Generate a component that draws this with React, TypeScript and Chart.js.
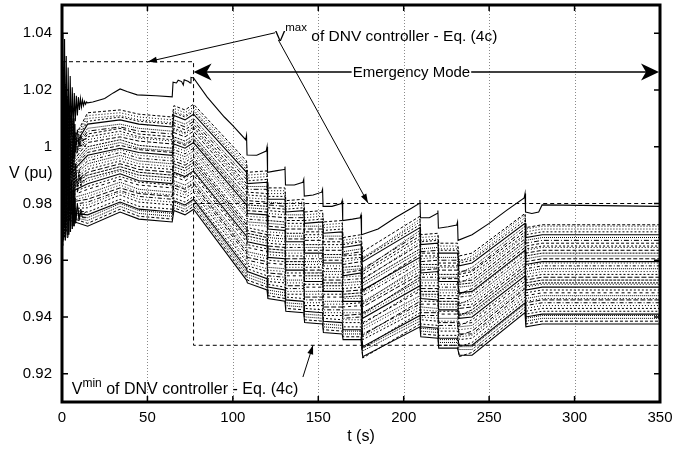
import React, { useEffect, useRef } from "react";
import { Chart, registerables } from "chart.js";

Chart.register(...registerables);

const FONT = '"Liberation Sans", Arial, Helvetica, sans-serif';

// ---- axes ----
const xTickValues = [0, 50, 100, 150, 200, 250, 300, 350];
const yTickValues = [0.92, 0.94, 0.96, 0.98, 1.0, 1.02, 1.04];
const yTickLabels = ["0.92", "0.94", "0.96", "0.98", "1", "1.02", "1.04"];

// ---- highest bus voltage (solid line) ----
const topTimes = [0, 0.5, 1.0, 1.5, 2.0, 2.5, 3.0, 3.6, 4.2, 4.8, 5.4, 6.0, 6.6, 7.2, 7.8, 8.4, 9.0, 9.6, 10.2, 10.8, 11.4, 12.0, 12.6, 13.2, 13.8, 14.4, 15, 18, 25, 30, 34, 38, 44, 55, 64.5, 65, 67, 68, 70, 71, 71.5, 74, 75, 75.5, 77, 85, 95, 100, 107.5, 108, 108.3, 114, 119.5, 120, 120.3, 125, 130, 130.5, 130.8, 136, 141, 141.5, 141.8, 147, 152, 152.5, 152.8, 158, 163.5, 164, 164.3, 170, 174.5, 175, 175.3, 185, 195, 205, 209, 209.5, 209.8, 215, 219.5, 220, 220.3, 226, 231, 231.5, 231.8, 240, 250, 260, 270.5, 271, 271.3, 275, 279, 281, 350];
const topValues = [1.000, 1.040, 0.985, 1.038, 0.990, 1.032, 0.995, 1.028, 1.000, 1.025, 1.004, 1.021, 1.006, 1.019, 1.009, 1.018, 1.011, 1.0175, 1.013, 1.017, 1.014, 1.0165, 1.0145, 1.016, 1.015, 1.0158, 1.0155, 1.0158, 1.017, 1.019, 1.0204, 1.0195, 1.0183, 1.018, 1.0176, 1.0228, 1.0225, 1.0235, 1.023, 1.0218, 1.0236, 1.023, 1.0225, 1.0245, 1.0243, 1.0175, 1.0105, 1.0075, 1.0025, 1.004, 0.9971, 0.997, 0.9985, 1.000, 0.991, 0.9915, 0.992, 0.993, 0.9865, 0.9865, 0.9875, 0.9885, 0.9826, 0.983, 0.984, 0.985, 0.979, 0.979, 0.980, 0.981, 0.974, 0.9745, 0.975, 0.976, 0.969, 0.971, 0.975, 0.9785, 0.980, 0.9812, 0.975, 0.975, 0.9765, 0.9775, 0.9713, 0.9718, 0.9724, 0.9735, 0.967, 0.969, 0.973, 0.9775, 0.982, 0.9835, 0.977, 0.9765, 0.977, 0.9795, 0.979];

// ---- initial transient (oscillating buses) ----
const oscTimes = [0, 0.5, 1.0, 1.5, 2.0, 2.5, 3.0, 3.5, 4.0, 4.5, 5.0, 5.5, 6.0, 6.5, 7.0, 7.5, 8.0, 9.0, 10.0, 11.0, 12.0, 14.0];
const osc1 = [1.000, 1.030, 0.980, 1.025, 0.985, 1.020, 0.988, 1.017, 0.990, 1.014, 0.992, 1.012, 0.994, 1.010, 0.996, 1.008, 0.998, 1.006, 1.000, 1.004, 1.002, 1.003];
const osc2 = [0.990, 0.965, 1.020, 0.968, 1.015, 0.970, 1.010, 0.972, 1.006, 0.974, 1.002, 0.976, 0.999, 0.978, 0.996, 0.980, 0.994, 0.984, 0.990, 0.986, 0.988, 0.988];
const osc3 = [0.985, 1.010, 0.968, 1.005, 0.967, 1.000, 0.968, 0.996, 0.969, 0.992, 0.970, 0.988, 0.971, 0.985, 0.972, 0.982, 0.973, 0.979, 0.974, 0.977, 0.975, 0.975];
const osc4 = [1.005, 0.975, 1.028, 0.978, 1.022, 0.980, 1.018, 0.983, 1.014, 0.986, 1.011, 0.990, 1.009, 0.993, 1.007, 0.996, 1.005, 0.998, 1.003, 1.000, 1.001, 1.000];
const osc5 = [0.980, 0.998, 0.967, 0.995, 0.968, 0.992, 0.969, 0.990, 0.970, 0.988, 0.971, 0.986, 0.972, 0.984, 0.973, 0.982, 0.974, 0.980, 0.975, 0.978, 0.976, 0.977];
const osc6 = [0.995, 0.970, 1.012, 0.972, 1.008, 0.974, 1.005, 0.976, 1.002, 0.978, 1.000, 0.980, 0.998, 0.982, 0.996, 0.984, 0.994, 0.986, 0.992, 0.988, 0.990, 0.990];

// ---- other bus voltages ----
const busTimes = [0, 15, 34, 45, 64.5, 65.5, 72, 77, 108, 108.5, 120, 120.5, 130.5, 131, 141.5, 142, 152.5, 153, 164, 164.5, 175, 176, 209.5, 210, 220, 220.5, 231.5, 232.5, 240, 271, 271.5, 281, 350];
const bus01 = [0.995, 1.012, 1.013, 1.0115, 1.0105, 1.0145, 1.013, 1.015, 0.995, 0.991, 0.9915, 0.9855, 0.9855, 0.981, 0.9815, 0.977, 0.9775, 0.9735, 0.974, 0.968, 0.969, 0.963, 0.9755, 0.969, 0.9695, 0.966, 0.966, 0.9615, 0.9625, 0.9765, 0.9715, 0.9725, 0.9725];
const bus02 = [0.994, 1.010, 1.011, 1.0095, 1.0085, 1.0125, 1.011, 1.013, 0.993, 0.989, 0.9895, 0.9835, 0.9835, 0.979, 0.9795, 0.975, 0.9755, 0.9715, 0.972, 0.966, 0.967, 0.961, 0.9735, 0.967, 0.9675, 0.964, 0.964, 0.960, 0.9605, 0.975, 0.970, 0.971, 0.971];
const bus03 = [0.993, 1.008, 1.0095, 1.008, 1.007, 1.011, 1.0095, 1.0115, 0.991, 0.987, 0.9875, 0.9815, 0.9815, 0.977, 0.9775, 0.973, 0.9735, 0.9695, 0.970, 0.9645, 0.9655, 0.9595, 0.9715, 0.9655, 0.966, 0.9625, 0.9625, 0.958, 0.959, 0.973, 0.968, 0.969, 0.969];
const bus04 = [0.992, 1.0055, 1.007, 1.0055, 1.0045, 1.0085, 1.007, 1.009, 0.9885, 0.985, 0.985, 0.9795, 0.979, 0.975, 0.975, 0.971, 0.971, 0.9675, 0.9675, 0.962, 0.963, 0.957, 0.9695, 0.963, 0.9635, 0.960, 0.960, 0.956, 0.9565, 0.971, 0.966, 0.967, 0.967];
const bus05 = [0.991, 1.0035, 1.0055, 1.0035, 1.0025, 1.0065, 1.005, 1.007, 0.986, 0.983, 0.9825, 0.9775, 0.977, 0.973, 0.973, 0.969, 0.969, 0.9655, 0.9655, 0.9605, 0.961, 0.955, 0.9675, 0.9615, 0.9615, 0.958, 0.958, 0.954, 0.955, 0.969, 0.964, 0.965, 0.965];
const bus06 = [0.990, 1.0015, 1.0035, 1.002, 1.001, 1.005, 1.0035, 1.0055, 0.984, 0.981, 0.9805, 0.9755, 0.975, 0.971, 0.971, 0.967, 0.967, 0.9635, 0.9635, 0.9585, 0.9595, 0.9535, 0.9655, 0.9595, 0.960, 0.9565, 0.9565, 0.9525, 0.953, 0.9675, 0.9625, 0.9635, 0.9635];
const bus07 = [0.9885, 0.999, 1.0015, 0.9995, 0.9985, 1.0025, 1.001, 1.003, 0.9815, 0.9785, 0.978, 0.973, 0.9725, 0.9685, 0.9685, 0.9645, 0.9645, 0.961, 0.961, 0.9565, 0.957, 0.951, 0.963, 0.9575, 0.9575, 0.954, 0.954, 0.9505, 0.951, 0.9655, 0.9605, 0.9615, 0.9615];
const bus08 = [0.9875, 0.997, 0.9995, 0.998, 0.997, 1.001, 0.9995, 1.0015, 0.9795, 0.9765, 0.976, 0.971, 0.9705, 0.9665, 0.9665, 0.9625, 0.9625, 0.959, 0.959, 0.9545, 0.9555, 0.9495, 0.961, 0.9555, 0.956, 0.9525, 0.9525, 0.9485, 0.949, 0.9635, 0.9585, 0.9595, 0.9595];
const bus09 = [0.9865, 0.995, 0.998, 0.996, 0.995, 0.999, 0.9975, 0.9995, 0.9775, 0.9745, 0.974, 0.969, 0.9685, 0.9645, 0.9645, 0.9605, 0.9605, 0.957, 0.957, 0.953, 0.9535, 0.9475, 0.959, 0.954, 0.954, 0.9505, 0.9505, 0.947, 0.9475, 0.962, 0.957, 0.958, 0.958];
const bus10 = [0.9855, 0.993, 0.996, 0.994, 0.993, 0.997, 0.9955, 0.9975, 0.9755, 0.9725, 0.972, 0.967, 0.9665, 0.9625, 0.9625, 0.9585, 0.9585, 0.955, 0.955, 0.951, 0.9515, 0.9455, 0.957, 0.952, 0.952, 0.9485, 0.9485, 0.945, 0.9455, 0.960, 0.955, 0.956, 0.956];
const bus11 = [0.9845, 0.991, 0.994, 0.992, 0.991, 0.995, 0.9935, 0.9955, 0.9725, 0.9705, 0.969, 0.965, 0.9645, 0.9605, 0.9605, 0.9565, 0.9565, 0.953, 0.953, 0.949, 0.9495, 0.9435, 0.955, 0.950, 0.950, 0.9465, 0.9465, 0.943, 0.9435, 0.958, 0.953, 0.954, 0.954];
const bus12 = [0.9835, 0.989, 0.992, 0.990, 0.989, 0.993, 0.9915, 0.9935, 0.9705, 0.9685, 0.967, 0.963, 0.9625, 0.9585, 0.9585, 0.9545, 0.9545, 0.951, 0.951, 0.947, 0.9475, 0.9415, 0.953, 0.948, 0.948, 0.9445, 0.9445, 0.941, 0.9415, 0.956, 0.951, 0.952, 0.952];
const bus13 = [0.9825, 0.987, 0.9905, 0.988, 0.987, 0.991, 0.9895, 0.9915, 0.9685, 0.9665, 0.965, 0.961, 0.9605, 0.9565, 0.9565, 0.9525, 0.9525, 0.949, 0.949, 0.9455, 0.9455, 0.9395, 0.951, 0.9465, 0.946, 0.9425, 0.9425, 0.9395, 0.940, 0.9545, 0.9495, 0.9505, 0.9505];
const bus14 = [0.9815, 0.985, 0.9885, 0.9865, 0.9855, 0.9895, 0.988, 0.990, 0.9665, 0.9645, 0.963, 0.959, 0.9585, 0.9545, 0.9545, 0.9505, 0.9505, 0.947, 0.947, 0.9435, 0.944, 0.938, 0.949, 0.9445, 0.9445, 0.941, 0.941, 0.9375, 0.938, 0.9525, 0.9475, 0.9485, 0.9485];
const bus15 = [0.980, 0.9825, 0.9865, 0.984, 0.983, 0.987, 0.9855, 0.9875, 0.964, 0.962, 0.9605, 0.9565, 0.956, 0.952, 0.952, 0.948, 0.948, 0.9445, 0.9445, 0.9415, 0.9415, 0.9355, 0.9465, 0.9425, 0.942, 0.9385, 0.9385, 0.9355, 0.936, 0.9505, 0.9455, 0.9465, 0.9465];
const bus16 = [0.979, 0.9805, 0.9845, 0.9825, 0.9815, 0.9855, 0.984, 0.986, 0.962, 0.960, 0.9585, 0.9545, 0.954, 0.950, 0.950, 0.946, 0.946, 0.9425, 0.9425, 0.9395, 0.940, 0.934, 0.9445, 0.9405, 0.9405, 0.937, 0.937, 0.934, 0.934, 0.949, 0.944, 0.945, 0.945];
const bus17 = [0.978, 0.9785, 0.983, 0.9805, 0.9795, 0.9835, 0.982, 0.984, 0.9595, 0.958, 0.956, 0.9525, 0.952, 0.948, 0.948, 0.944, 0.944, 0.9405, 0.9405, 0.938, 0.938, 0.932, 0.9425, 0.939, 0.9385, 0.935, 0.935, 0.932, 0.9325, 0.947, 0.942, 0.943, 0.943];
const bus18 = [0.977, 0.976, 0.9805, 0.978, 0.977, 0.981, 0.9795, 0.9815, 0.957, 0.956, 0.9535, 0.9505, 0.9495, 0.946, 0.9455, 0.942, 0.9415, 0.9385, 0.938, 0.9355, 0.9355, 0.9295, 0.9405, 0.9365, 0.936, 0.9325, 0.9325, 0.930, 0.930, 0.945, 0.940, 0.941, 0.941];
const bus19 = [0.976, 0.974, 0.979, 0.9765, 0.9755, 0.9795, 0.978, 0.980, 0.955, 0.954, 0.9515, 0.9485, 0.9475, 0.944, 0.9435, 0.940, 0.9395, 0.9365, 0.936, 0.934, 0.934, 0.928, 0.9385, 0.935, 0.9345, 0.931, 0.931, 0.9285, 0.9285, 0.9435, 0.9385, 0.9395, 0.9395];
const bus20 = [0.975, 0.972, 0.977, 0.9745, 0.9735, 0.9775, 0.976, 0.978, 0.953, 0.952, 0.9495, 0.9465, 0.9455, 0.942, 0.9415, 0.938, 0.9375, 0.9345, 0.934, 0.932, 0.932, 0.926, 0.9365, 0.933, 0.9325, 0.929, 0.929, 0.9265, 0.9265, 0.9415, 0.9365, 0.9375, 0.9375];
const bus21 = [0.995, 1.011, 1.012, 1.0105, 1.0095, 1.0135, 1.012, 1.014, 0.994, 0.990, 0.9905, 0.9845, 0.9845, 0.980, 0.9805, 0.976, 0.9765, 0.9725, 0.973, 0.967, 0.968, 0.9605, 0.9745, 0.968, 0.9685, 0.965, 0.965, 0.9595, 0.9615, 0.976, 0.971, 0.972, 0.972];
const bus22 = [0.994, 1.009, 1.0105, 1.009, 1.008, 1.012, 1.0105, 1.0125, 0.992, 0.988, 0.9885, 0.9825, 0.9825, 0.978, 0.9785, 0.974, 0.9745, 0.9705, 0.971, 0.9655, 0.9665, 0.9605, 0.9725, 0.9665, 0.967, 0.9635, 0.9635, 0.959, 0.960, 0.974, 0.969, 0.970, 0.970];
const bus23 = [0.993, 1.0065, 1.008, 1.0065, 1.0055, 1.0095, 1.008, 1.010, 0.9895, 0.986, 0.986, 0.9805, 0.980, 0.976, 0.976, 0.972, 0.972, 0.9685, 0.9685, 0.963, 0.964, 0.9565, 0.9705, 0.964, 0.9645, 0.961, 0.961, 0.9555, 0.9575, 0.972, 0.967, 0.968, 0.968];
const bus24 = [0.992, 1.0045, 1.0065, 1.0045, 1.0035, 1.0075, 1.006, 1.008, 0.987, 0.984, 0.9835, 0.9785, 0.978, 0.974, 0.974, 0.970, 0.970, 0.9665, 0.9665, 0.9615, 0.962, 0.956, 0.9685, 0.9625, 0.9625, 0.959, 0.959, 0.955, 0.956, 0.970, 0.965, 0.966, 0.966];
const bus25 = [0.991, 1.0025, 1.0045, 1.003, 1.002, 1.006, 1.0045, 1.0065, 0.985, 0.982, 0.9815, 0.9765, 0.976, 0.972, 0.972, 0.968, 0.968, 0.9645, 0.9645, 0.9595, 0.9605, 0.953, 0.9665, 0.9605, 0.961, 0.9575, 0.9575, 0.952, 0.954, 0.9685, 0.9635, 0.9645, 0.9645];
const bus26 = [0.9895, 1.000, 1.0025, 1.0005, 0.9995, 1.0035, 1.002, 1.004, 0.9825, 0.9795, 0.979, 0.974, 0.9735, 0.9695, 0.9695, 0.9655, 0.9655, 0.962, 0.962, 0.9575, 0.958, 0.952, 0.964, 0.9585, 0.9585, 0.955, 0.955, 0.9515, 0.952, 0.9665, 0.9615, 0.9625, 0.9625];
const bus27 = [0.9885, 0.998, 1.0005, 0.999, 0.998, 1.002, 1.0005, 1.0025, 0.9805, 0.9775, 0.977, 0.972, 0.9715, 0.9675, 0.9675, 0.9635, 0.9635, 0.960, 0.960, 0.9555, 0.9565, 0.949, 0.962, 0.9565, 0.957, 0.9535, 0.9535, 0.948, 0.950, 0.9645, 0.9595, 0.9605, 0.9605];
const bus28 = [0.9875, 0.996, 0.999, 0.997, 0.996, 1.000, 0.9985, 1.0005, 0.9785, 0.9755, 0.975, 0.970, 0.9695, 0.9655, 0.9655, 0.9615, 0.9615, 0.958, 0.958, 0.954, 0.9545, 0.9485, 0.960, 0.955, 0.955, 0.9515, 0.9515, 0.948, 0.9485, 0.963, 0.958, 0.959, 0.959];
const bus29 = [0.9865, 0.994, 0.997, 0.995, 0.994, 0.998, 0.9965, 0.9985, 0.9765, 0.9735, 0.973, 0.968, 0.9675, 0.9635, 0.9635, 0.9595, 0.9595, 0.956, 0.956, 0.952, 0.9525, 0.945, 0.958, 0.953, 0.953, 0.9495, 0.9495, 0.9445, 0.9465, 0.961, 0.956, 0.957, 0.957];
const bus30 = [0.9855, 0.992, 0.995, 0.993, 0.992, 0.996, 0.9945, 0.9965, 0.9735, 0.9715, 0.970, 0.966, 0.9655, 0.9615, 0.9615, 0.9575, 0.9575, 0.954, 0.954, 0.950, 0.9505, 0.9445, 0.956, 0.951, 0.951, 0.9475, 0.9475, 0.944, 0.9445, 0.959, 0.954, 0.955, 0.955];
const bus31 = [0.9845, 0.990, 0.993, 0.991, 0.990, 0.994, 0.9925, 0.9945, 0.9715, 0.9695, 0.968, 0.964, 0.9635, 0.9595, 0.9595, 0.9555, 0.9555, 0.952, 0.952, 0.948, 0.9485, 0.941, 0.954, 0.949, 0.949, 0.9455, 0.9455, 0.9405, 0.9425, 0.957, 0.952, 0.953, 0.953];
const bus32 = [0.9835, 0.988, 0.9915, 0.989, 0.988, 0.992, 0.9905, 0.9925, 0.9695, 0.9675, 0.966, 0.962, 0.9615, 0.9575, 0.9575, 0.9535, 0.9535, 0.950, 0.950, 0.9465, 0.9465, 0.9405, 0.952, 0.9475, 0.947, 0.9435, 0.9435, 0.9405, 0.941, 0.9555, 0.9505, 0.9515, 0.9515];
const bus33 = [0.9825, 0.986, 0.9895, 0.9875, 0.9865, 0.9905, 0.989, 0.991, 0.9675, 0.9655, 0.964, 0.960, 0.9595, 0.9555, 0.9555, 0.9515, 0.9515, 0.948, 0.948, 0.9445, 0.945, 0.9375, 0.950, 0.9455, 0.9455, 0.942, 0.942, 0.937, 0.939, 0.9535, 0.9485, 0.9495, 0.9495];
const bus34 = [0.981, 0.9835, 0.9875, 0.985, 0.984, 0.988, 0.9865, 0.9885, 0.965, 0.963, 0.9615, 0.9575, 0.957, 0.953, 0.953, 0.949, 0.949, 0.9455, 0.9455, 0.9425, 0.9425, 0.9365, 0.9475, 0.9435, 0.943, 0.9395, 0.9395, 0.9365, 0.937, 0.9515, 0.9465, 0.9475, 0.9475];
const bus35 = [0.980, 0.9815, 0.9855, 0.9835, 0.9825, 0.9865, 0.985, 0.987, 0.963, 0.961, 0.9595, 0.9555, 0.955, 0.951, 0.951, 0.947, 0.947, 0.9435, 0.9435, 0.9405, 0.941, 0.9335, 0.9455, 0.9415, 0.9415, 0.938, 0.938, 0.9335, 0.935, 0.950, 0.945, 0.946, 0.946];
const bus36 = [0.979, 0.9795, 0.984, 0.9815, 0.9805, 0.9845, 0.983, 0.985, 0.9605, 0.959, 0.957, 0.9535, 0.953, 0.949, 0.949, 0.945, 0.945, 0.9415, 0.9415, 0.939, 0.939, 0.933, 0.9435, 0.940, 0.9395, 0.936, 0.936, 0.933, 0.9335, 0.948, 0.943, 0.944, 0.944];
const bus37 = [0.978, 0.977, 0.9815, 0.979, 0.978, 0.982, 0.9805, 0.9825, 0.958, 0.957, 0.9545, 0.9515, 0.9505, 0.947, 0.9465, 0.943, 0.9425, 0.9395, 0.939, 0.9365, 0.9365, 0.929, 0.9415, 0.9375, 0.937, 0.9335, 0.9335, 0.9295, 0.931, 0.946, 0.941, 0.942, 0.942];
const bus38 = [0.977, 0.975, 0.980, 0.9775, 0.9765, 0.9805, 0.979, 0.981, 0.956, 0.955, 0.9525, 0.9495, 0.9485, 0.945, 0.9445, 0.941, 0.9405, 0.9375, 0.937, 0.935, 0.935, 0.929, 0.9395, 0.936, 0.9355, 0.932, 0.932, 0.9295, 0.9295, 0.9445, 0.9395, 0.9405, 0.9405];
const bus39 = [0.976, 0.973, 0.978, 0.9755, 0.9745, 0.9785, 0.977, 0.979, 0.954, 0.953, 0.9505, 0.9475, 0.9465, 0.943, 0.9425, 0.939, 0.9385, 0.9355, 0.935, 0.933, 0.933, 0.9255, 0.9375, 0.934, 0.9335, 0.930, 0.930, 0.926, 0.9275, 0.9425, 0.9375, 0.9385, 0.9385];

// ---- DNV controller limits ----
const vmaxTimes = [0, 77, 77, 350];
const vmaxValues = [1.03, 1.03, 0.98, 0.98];
const vminTimes = [77, 77, 350];
const vminValues = [0.98, 0.93, 0.93];

// ---- annotation anchors (data coordinates) ----
const emergencyV = 1.0264;
const emergencyFrom = 77;
const emergencyTo = 350;
const emergencyLabelT = 204.5;
const vmaxNote = { t: 124.6, v: 1.0373 };
const vmaxArrows = [
  [124.7, 1.0402, 50.3, 1.03],
  [126.6, 1.0377, 179.1, 0.9802],
];
const vminNote = { t: 5.7, v: 0.9128 };
const vminArrow = [141.0, 0.9188, 146.9, 0.93];

const busSeries = [bus01, bus02, bus03, bus04, bus05, bus06, bus07, bus08, bus09, bus10, bus11, bus12, bus13, bus14, bus15, bus16, bus17, bus18, bus19, bus20, bus21, bus22, bus23, bus24, bus25, bus26, bus27, bus28, bus29, bus30, bus31, bus32, bus33, bus34, bus35, bus36, bus37, bus38, bus39];
const busDashes = [
  [3, 2], [1, 2], [], [5, 2, 1, 2], [2, 2], [4, 2], [1, 1], [], [3, 2, 1, 2], [1, 2],
  [5, 2], [2, 1], [], [3, 3], [1, 2], [4, 2, 1, 2], [2, 2], [], [1, 1], [],
  [1, 2], [2, 2], [1, 1], [3, 2], [1, 2], [2, 1], [4, 2], [1, 2], [1, 1], [2, 2],
  [3, 1], [1, 2], [2, 2], [1, 1], [5, 2], [1, 2], [2, 2], [1, 1], [3, 2],
];
const oscSeries = [osc1, osc2, osc3, osc4, osc5, osc6];

const pts = (ts: number[], vs: number[]) => ts.map((t, i) => ({ x: t, y: vs[i] }));

const decor = {
  id: "decor",
  beforeDatasetsDraw(chart: any) {
    const { ctx, chartArea: a, scales } = chart;
    ctx.save();
    ctx.strokeStyle = "#8a8a8a";
    ctx.lineWidth = 1;
    ctx.setLineDash([1, 2]);
    ctx.beginPath();
    for (const t of xTickValues) {
      if (t === xTickValues[0] || t === xTickValues[xTickValues.length - 1]) continue;
      const X = Math.round(scales.x.getPixelForValue(t)) + 0.5;
      ctx.moveTo(X, a.top);
      ctx.lineTo(X, a.bottom);
    }
    ctx.stroke();
    ctx.restore();
  },
  afterDatasetsDraw(chart: any) {
    const { ctx, chartArea: a, scales } = chart;
    const px = (t: number) => scales.x.getPixelForValue(t);
    const py = (v: number) => scales.y.getPixelForValue(v);
    ctx.save();
    ctx.setLineDash([]);
    ctx.strokeStyle = "#000";
    ctx.fillStyle = "#000";

    // frame
    ctx.lineWidth = 3;
    ctx.strokeRect(a.left, a.top, a.right - a.left, a.bottom - a.top);
    // inward tick marks
    ctx.lineWidth = 1.5;
    ctx.beginPath();
    for (const t of xTickValues) {
      const X = px(t);
      ctx.moveTo(X, a.bottom); ctx.lineTo(X, a.bottom - 6);
      ctx.moveTo(X, a.top); ctx.lineTo(X, a.top + 6);
    }
    for (const v of yTickValues) {
      const Y = py(v);
      ctx.moveTo(a.left, Y); ctx.lineTo(a.left + 6, Y);
      ctx.moveTo(a.right, Y); ctx.lineTo(a.right - 6, Y);
    }
    ctx.stroke();

    // Emergency mode double arrow
    const ey = py(emergencyV);
    const ex0 = px(emergencyFrom);
    const ex1 = px(emergencyTo);
    ctx.lineWidth = 1.5;
    ctx.beginPath();
    ctx.moveTo(ex0 + 12, ey);
    ctx.lineTo(ex1 - 12, ey);
    ctx.stroke();
    const head = (tipX: number, y: number, dir: number) => {
      ctx.beginPath();
      ctx.moveTo(tipX, y);
      ctx.lineTo(tipX - dir * 18, y - 8.5);
      ctx.lineTo(tipX - dir * 13, y);
      ctx.lineTo(tipX - dir * 18, y + 8.5);
      ctx.closePath();
      ctx.fill();
    };
    head(ex0, ey, -1);
    head(ex1 - 1, ey, 1);
    ctx.font = `15px ${FONT}`;
    ctx.textAlign = "center";
    ctx.textBaseline = "middle";
    const lbl = "Emergency Mode";
    const lw = ctx.measureText(lbl).width;
    const lx = px(emergencyLabelT);
    ctx.fillStyle = "#fff";
    ctx.fillRect(lx - lw / 2 - 1, ey - 3, lw + 2, 6);
    ctx.fillStyle = "#000";
    ctx.fillText(lbl, lx, ey + 1);

    // small arrows
    const arrow = (t1: number, v1: number, t2: number, v2: number) => {
      const x1 = px(t1), y1 = py(v1), x2 = px(t2), y2 = py(v2);
      ctx.lineWidth = 1;
      ctx.beginPath();
      ctx.moveTo(x1, y1);
      ctx.lineTo(x2, y2);
      ctx.stroke();
      const ang = Math.atan2(y2 - y1, x2 - x1);
      const L = 9, H = 3;
      const c = Math.cos(ang), s = Math.sin(ang);
      ctx.beginPath();
      ctx.moveTo(x2, y2);
      ctx.lineTo(x2 - L * c + H * s, y2 - L * s - H * c);
      ctx.lineTo(x2 - L * c - H * s, y2 - L * s + H * c);
      ctx.closePath();
      ctx.fill();
    };

    ctx.textAlign = "left";
    ctx.textBaseline = "alphabetic";
    const note = (t: number, v: number, size: number, sup: string, supSize: number, rise: number) => {
      const x0 = px(t), y0 = py(v);
      ctx.font = `${size}px ${FONT}`;
      ctx.fillText("V", x0, y0);
      const w1 = ctx.measureText("V").width;
      ctx.font = `${supSize}px ${FONT}`;
      ctx.fillText(sup, x0 + w1, y0 - rise);
      const w2 = ctx.measureText(sup).width;
      ctx.font = `${size}px ${FONT}`;
      ctx.fillText(" of DNV controller - Eq. (4c)", x0 + w1 + w2, y0);
    };
    note(vmaxNote.t, vmaxNote.v, 15.5, "max", 11.5, 10);
    for (const ar of vmaxArrows) arrow(ar[0], ar[1], ar[2], ar[3]);
    note(vminNote.t, vminNote.v, 16, "min", 12, 7);
    arrow(vminArrow[0], vminArrow[1], vminArrow[2], vminArrow[3]);

    // axis titles
    ctx.font = `16px ${FONT}`;
    ctx.textBaseline = "middle";
    ctx.textAlign = "left";
    ctx.fillText("V (pu)", 9, py(0.9905));
    ctx.textAlign = "center";
    ctx.fillText("t (s)", (a.left + a.right) / 2, 437);
    ctx.restore();
  },
};

export default function App() {
  const canvasRef = useRef<HTMLCanvasElement | null>(null);

  useEffect(() => {
    if (!canvasRef.current) return;
    const datasets: any[] = [];
    datasets.push({
      data: pts(topTimes, topValues),
      borderColor: "#000",
      borderWidth: 1.1,
    });
    oscSeries.forEach((s, i) => {
      datasets.push({
        data: pts(oscTimes, s),
        borderColor: "#000",
        borderWidth: 1,
        borderDash: i % 2 === 0 ? [] : [2, 1],
      });
    });
    busSeries.forEach((s, i) => {
      datasets.push({
        data: pts(busTimes, s),
        borderColor: "#000",
        borderWidth: busDashes[i].length === 0 ? 1.1 : 1,
        borderDash: busDashes[i],
      });
    });
    datasets.push({
      data: pts(vmaxTimes, vmaxValues),
      borderColor: "#000",
      borderWidth: 1,
      borderDash: [4, 3],
    });
    datasets.push({
      data: pts(vminTimes, vminValues),
      borderColor: "#000",
      borderWidth: 1,
      borderDash: [4, 3],
    });

    const chart = new Chart(canvasRef.current, {
      type: "line",
      data: { datasets },
      plugins: [decor],
      options: {
        animation: false,
        responsive: true,
        maintainAspectRatio: false,
        layout: { padding: { left: 0, right: 39, top: 5, bottom: 0 } },
        elements: { point: { radius: 0 }, line: { tension: 0 } },
        plugins: { legend: { display: false }, tooltip: { enabled: false } },
        scales: {
          x: {
            type: "linear",
            min: 0,
            max: 350,
            grid: { display: false, drawTicks: false },
            border: { display: false },
            afterBuildTicks: (s: any) => {
              s.ticks = xTickValues.map((v) => ({ value: v }));
            },
            afterFit: (s: any) => {
              s.height = 53;
              s.paddingLeft = 0;
              s.paddingRight = 0;
            },
            ticks: {
              color: "#000",
              font: { family: FONT, size: 15 },
              padding: 7,
              maxRotation: 0,
              autoSkip: false,
              callback: (v: any) => String(v),
            },
          },
          y: {
            type: "linear",
            min: 0.91,
            max: 1.05,
            grid: { display: false, drawTicks: false },
            border: { display: false },
            afterBuildTicks: (s: any) => {
              s.ticks = yTickValues.map((v) => ({ value: v }));
            },
            afterFit: (s: any) => {
              s.width = 62;
              s.paddingTop = 0;
              s.paddingBottom = 0;
            },
            ticks: {
              color: "#000",
              font: { family: FONT, size: 15 },
              padding: 10,
              autoSkip: false,
              callback: (_v: any, i: number) => yTickLabels[i],
            },
          },
        },
      } as any,
    });
    return () => chart.destroy();
  }, []);

  return (
    <div style={{ position: "absolute", left: 0, top: 0, width: 699, height: 455, background: "#fff" }}>
      <canvas ref={canvasRef} />
    </div>
  );
}
